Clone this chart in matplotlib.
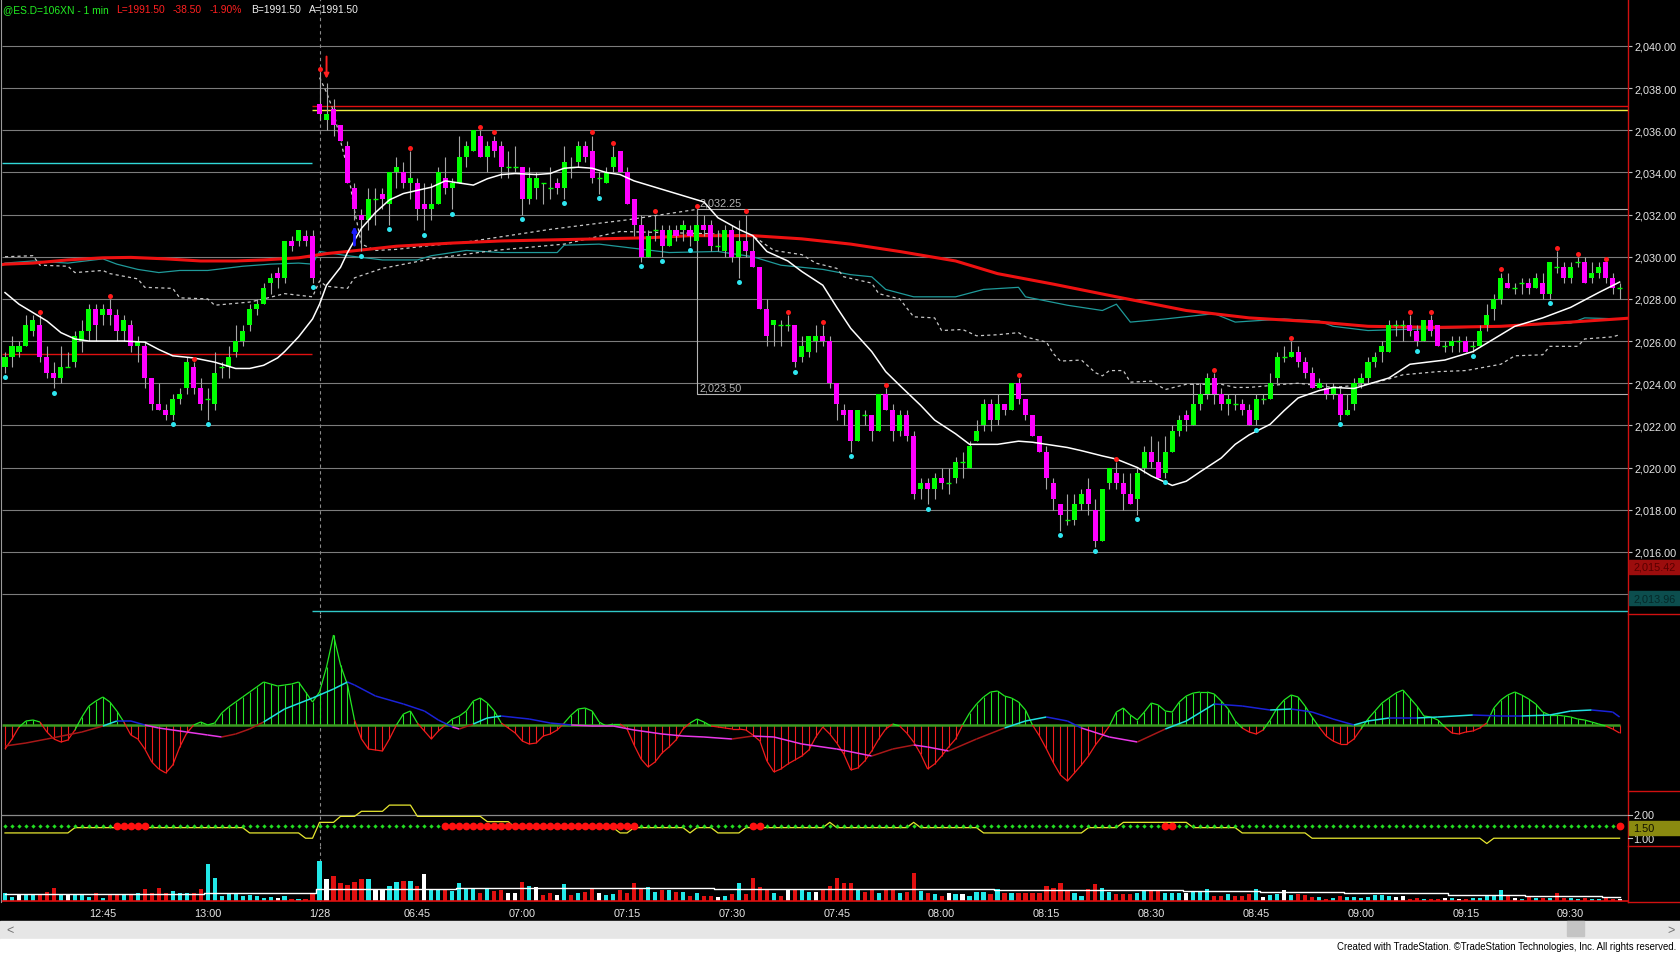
import numpy as np
import matplotlib
matplotlib.use('Agg')
import matplotlib.pyplot as plt
from matplotlib.collections import LineCollection
from matplotlib.lines import Line2D
from matplotlib.patches import Rectangle

plt.rcParams['font.family'] = ['Liberation Sans', 'DejaVu Sans']

# ---- values: 1-min ES bars, 12:31 (1/27) .. 09:37 (1/28) ----
opens = [
    2024.75, 2025.25, 2025.5, 2025.75, 2026.5, 2026.75, 2025.25, 2024.5, 2024.25, 2024.75,
    2025.0, 2026.0, 2026.5, 2027.5, 2027.25, 2027.5, 2027.25, 2026.5, 2026.75, 2025.75,
    2025.75, 2024.25, 2023.0, 2022.75, 2022.5, 2023.25, 2023.75, 2024.75, 2023.75, 2023.25,
    2023.0, 2024.75, 2024.75, 2025.5, 2026.0, 2026.75, 2027.5, 2027.75, 2028.75, 2029.25,
    2029.0, 2030.75, 2030.75, 2031.0, 2031.0, 2037.25, 2036.5, 2037.0, 2036.25, 2035.25,
    2033.25, 2032.0, 2031.75, 2032.75, 2033.0, 2032.5, 2034.0, 2034.0, 2033.5, 2033.5,
    2032.5, 2032.25, 2032.5, 2033.75, 2033.25, 2033.5, 2034.75, 2035.0, 2035.75, 2034.75,
    2035.5, 2035.25, 2034.25, 2034.25, 2034.25, 2032.75, 2033.25, 2033.5, 2033.25, 2033.5,
    2033.25, 2034.25, 2034.5, 2035.25, 2035.0, 2033.75, 2033.5, 2034.25, 2035.0, 2034.0,
    2032.75, 2031.5, 2030.0, 2031.25, 2031.25, 2030.5, 2031.25, 2031.25, 2031.25, 2030.75,
    2031.5, 2031.5, 2030.5, 2030.25, 2031.25, 2030.0, 2030.75, 2030.25, 2029.5, 2027.5,
    2026.75, 2026.75, 2026.75, 2026.75, 2025.25, 2025.5, 2026.0, 2026.25, 2026.0, 2024.0,
    2022.75, 2022.75, 2021.25, 2022.5, 2022.5, 2021.75, 2023.5, 2022.75, 2021.75, 2022.5,
    2021.5, 2019.0, 2019.25, 2019.0, 2019.5, 2019.25, 2019.5, 2020.25, 2020.0, 2021.25,
    2022.0, 2023.0, 2022.25, 2023.0, 2022.75, 2024.0, 2023.25, 2022.5, 2021.5, 2020.75,
    2019.25, 2018.25, 2017.5, 2017.5, 2018.25, 2019.0, 2018.0, 2016.5, 2019.25, 2019.75,
    2019.25, 2018.75, 2018.5, 2020.0, 2020.75, 2020.25, 2019.75, 2020.75, 2021.75, 2022.5,
    2022.0, 2023.0, 2023.5, 2024.25, 2023.5, 2023.0, 2023.0, 2023.0, 2022.75, 2022.25,
    2023.25, 2023.25, 2024.25, 2025.25, 2025.25, 2025.5, 2025.0, 2024.5, 2023.75, 2023.75,
    2023.5, 2023.5, 2022.5, 2023.0, 2024.0, 2024.25, 2025.0, 2025.5, 2025.5, 2026.75,
    2026.75, 2026.75, 2026.5, 2026.0, 2027.0, 2026.75, 2025.75, 2025.75, 2026.0, 2026.0,
    2025.75, 2025.75, 2026.75, 2027.5, 2028.0, 2028.75, 2028.5, 2028.75, 2028.75, 2028.5,
    2028.75, 2028.25, 2029.5, 2029.5, 2029.0, 2029.75, 2029.75, 2029.0, 2029.25, 2029.75,
    2029.0, 2028.5]
highs = [
    2025.5, 2026.25, 2026.0, 2027.25, 2027.25, 2027.25, 2025.75, 2025.0, 2025.75, 2025.5,
    2026.5, 2027.0, 2027.75, 2027.75, 2027.75, 2028.0, 2027.5, 2027.25, 2027.0, 2026.25,
    2026.0, 2024.25, 2024.0, 2023.0, 2023.5, 2023.75, 2025.25, 2025.0, 2024.25, 2023.75,
    2025.5, 2025.0, 2025.75, 2026.75, 2026.75, 2027.75, 2028.0, 2028.75, 2029.25, 2029.5,
    2030.75, 2031.0, 2031.25, 2031.25, 2031.25, 2038.75, 2038.25, 2037.5, 2036.25, 2035.5,
    2033.5, 2032.25, 2033.25, 2033.25, 2033.25, 2034.0, 2034.75, 2034.5, 2035.0, 2033.75,
    2033.5, 2033.5, 2034.25, 2034.75, 2033.75, 2035.75, 2035.5, 2036.0, 2036.0, 2035.5,
    2035.75, 2035.5, 2035.0, 2035.25, 2034.25, 2034.25, 2034.0, 2033.5, 2034.25, 2033.75,
    2035.25, 2034.75, 2035.5, 2035.5, 2035.75, 2034.0, 2034.25, 2035.25, 2035.0, 2034.25,
    2032.75, 2032.0, 2031.25, 2032.0, 2031.5, 2031.5, 2031.5, 2031.75, 2031.5, 2032.25,
    2032.0, 2031.75, 2031.25, 2031.5, 2031.5, 2031.75, 2032.0, 2031.0, 2029.5, 2028.0,
    2027.0, 2027.0, 2027.25, 2026.75, 2026.25, 2026.25, 2026.75, 2026.75, 2026.25, 2024.0,
    2023.0, 2022.75, 2022.75, 2022.75, 2022.5, 2023.5, 2023.75, 2023.0, 2022.75, 2022.75,
    2021.75, 2019.5, 2019.5, 2019.75, 2020.0, 2020.0, 2020.5, 2020.75, 2021.25, 2022.25,
    2023.25, 2023.25, 2023.5, 2023.0, 2024.0, 2024.25, 2023.25, 2022.5, 2021.5, 2021.0,
    2019.5, 2018.25, 2018.75, 2018.75, 2019.0, 2019.5, 2018.5, 2019.0, 2020.0, 2020.25,
    2019.75, 2019.75, 2020.0, 2021.0, 2021.5, 2021.25, 2021.5, 2022.0, 2022.5, 2022.75,
    2024.0, 2024.0, 2024.5, 2024.5, 2023.75, 2023.5, 2023.5, 2023.25, 2023.0, 2023.5,
    2023.5, 2024.5, 2025.5, 2025.75, 2026.0, 2025.75, 2025.25, 2024.75, 2024.25, 2024.0,
    2024.0, 2023.75, 2023.5, 2024.25, 2024.5, 2025.25, 2025.5, 2026.0, 2027.0, 2027.0,
    2027.0, 2027.25, 2026.75, 2027.0, 2027.25, 2026.75, 2026.0, 2026.25, 2026.25, 2026.25,
    2026.0, 2026.75, 2027.75, 2028.25, 2029.25, 2029.25, 2028.75, 2029.0, 2029.0, 2029.25,
    2029.25, 2029.75, 2030.25, 2029.75, 2029.75, 2030.0, 2030.0, 2029.75, 2029.75, 2029.75,
    2029.25, 2028.75]
lows = [
    2024.5, 2024.75, 2025.25, 2025.75, 2026.25, 2025.0, 2024.25, 2023.75, 2024.0, 2024.75,
    2024.75, 2025.5, 2026.0, 2026.0, 2026.75, 2026.75, 2026.0, 2026.0, 2025.5, 2025.0,
    2023.75, 2022.75, 2022.75, 2022.25, 2022.25, 2023.0, 2023.5, 2023.5, 2022.75, 2022.25,
    2022.75, 2024.25, 2024.25, 2025.25, 2025.75, 2026.5, 2027.25, 2027.75, 2028.25, 2028.5,
    2028.75, 2030.25, 2030.5, 2030.5, 2028.75, 2036.5, 2036.0, 2035.75, 2035.5, 2033.5,
    2031.75, 2030.25, 2031.25, 2031.5, 2032.25, 2031.5, 2033.25, 2033.25, 2032.75, 2031.75,
    2031.25, 2031.75, 2032.5, 2033.0, 2032.25, 2033.5, 2034.25, 2035.0, 2034.75, 2034.0,
    2034.75, 2033.75, 2033.75, 2034.0, 2032.0, 2032.5, 2032.75, 2032.5, 2032.75, 2033.0,
    2032.75, 2033.75, 2034.25, 2034.5, 2033.5, 2033.0, 2033.5, 2034.0, 2034.0, 2032.5,
    2031.0, 2029.75, 2030.0, 2030.75, 2030.0, 2030.5, 2030.75, 2030.75, 2030.5, 2030.25,
    2031.0, 2030.25, 2030.25, 2030.0, 2029.75, 2029.0, 2030.0, 2029.5, 2027.5, 2025.75,
    2025.75, 2025.75, 2026.5, 2024.75, 2025.0, 2025.25, 2025.5, 2025.75, 2023.75, 2022.25,
    2022.0, 2020.75, 2021.25, 2022.0, 2021.25, 2021.75, 2022.75, 2021.25, 2021.5, 2021.25,
    2018.5, 2018.5, 2018.25, 2018.5, 2019.0, 2018.75, 2019.25, 2019.5, 2020.0, 2021.25,
    2021.75, 2021.75, 2022.0, 2022.5, 2022.75, 2023.0, 2022.25, 2021.5, 2020.75, 2019.0,
    2018.0, 2017.0, 2017.25, 2017.25, 2018.0, 2017.75, 2016.25, 2016.5, 2019.0, 2019.0,
    2018.0, 2018.25, 2017.75, 2019.75, 2020.0, 2019.5, 2019.5, 2020.75, 2021.5, 2021.75,
    2022.0, 2022.75, 2023.25, 2023.0, 2022.75, 2022.5, 2022.75, 2022.5, 2022.0, 2022.0,
    2023.0, 2023.25, 2024.0, 2025.0, 2025.25, 2024.75, 2024.25, 2023.75, 2023.75, 2023.25,
    2023.25, 2022.25, 2022.5, 2022.75, 2023.75, 2024.0, 2024.75, 2025.0, 2025.5, 2026.25,
    2026.0, 2026.25, 2025.75, 2026.0, 2026.25, 2025.75, 2025.5, 2025.5, 2025.5, 2025.5,
    2025.5, 2025.75, 2026.5, 2027.0, 2027.75, 2028.5, 2028.25, 2028.25, 2028.25, 2028.5,
    2028.0, 2028.0, 2029.25, 2028.75, 2028.75, 2029.5, 2028.75, 2028.75, 2029.0, 2028.75,
    2028.25, 2028.0]
closes = [
    2025.25, 2025.75, 2025.75, 2026.75, 2027.0, 2025.25, 2024.5, 2024.25, 2024.75, 2024.75,
    2026.25, 2026.5, 2027.5, 2026.75, 2027.5, 2027.25, 2026.5, 2027.0, 2025.75, 2026.0,
    2024.25, 2023.0, 2022.75, 2022.5, 2023.25, 2023.5, 2025.0, 2023.75, 2023.0, 2023.25,
    2024.5, 2024.75, 2025.25, 2026.0, 2026.5, 2027.5, 2027.75, 2028.5, 2029.0, 2029.0,
    2030.75, 2030.5, 2031.25, 2030.75, 2029.0, 2036.75, 2036.75, 2036.25, 2035.5, 2033.5,
    2032.25, 2031.75, 2032.75, 2032.75, 2032.75, 2034.0, 2034.25, 2033.5, 2033.75, 2032.25,
    2032.25, 2032.5, 2034.0, 2033.25, 2033.5, 2034.75, 2035.25, 2036.0, 2034.75, 2035.25,
    2035.0, 2034.25, 2034.25, 2034.25, 2032.75, 2033.75, 2033.75, 2033.5, 2033.25, 2033.25,
    2034.5, 2034.25, 2035.25, 2034.75, 2033.75, 2033.75, 2034.0, 2034.75, 2034.0, 2032.5,
    2031.5, 2030.0, 2031.0, 2031.25, 2030.5, 2031.25, 2031.0, 2031.5, 2031.0, 2031.5,
    2031.25, 2030.5, 2030.5, 2031.25, 2030.0, 2030.75, 2030.25, 2029.5, 2027.5, 2026.25,
    2027.0, 2026.75, 2026.75, 2025.0, 2025.75, 2026.25, 2026.25, 2026.0, 2024.0, 2023.0,
    2022.5, 2021.25, 2022.75, 2022.5, 2021.75, 2023.5, 2022.75, 2021.75, 2022.5, 2021.5,
    2018.75, 2019.25, 2019.0, 2019.5, 2019.25, 2019.25, 2020.25, 2020.25, 2021.0, 2021.75,
    2023.0, 2022.25, 2023.0, 2022.75, 2024.0, 2023.25, 2022.5, 2021.5, 2020.75, 2019.5,
    2018.5, 2017.75, 2017.5, 2018.25, 2018.75, 2018.25, 2016.5, 2019.0, 2020.0, 2019.25,
    2018.75, 2018.25, 2019.75, 2020.75, 2020.25, 2019.5, 2020.75, 2021.75, 2022.25, 2022.25,
    2023.0, 2023.5, 2024.25, 2023.5, 2023.0, 2023.25, 2023.0, 2022.75, 2022.0, 2023.25,
    2023.25, 2024.0, 2025.25, 2025.25, 2025.5, 2025.0, 2024.5, 2023.75, 2024.0, 2023.5,
    2023.75, 2022.5, 2022.75, 2024.0, 2024.25, 2025.0, 2025.25, 2025.75, 2026.75, 2026.75,
    2026.75, 2026.5, 2026.0, 2027.0, 2026.5, 2025.75, 2025.75, 2026.0, 2026.0, 2025.5,
    2025.75, 2026.5, 2027.25, 2028.0, 2029.0, 2028.5, 2028.5, 2028.75, 2028.5, 2029.0,
    2028.25, 2029.75, 2029.5, 2029.0, 2029.5, 2029.75, 2028.75, 2029.25, 2029.5, 2029.0,
    2028.5, 2028.5]

# swing markers (bar numbers)
swing_high_bars = [5, 15, 27, 45, 58, 68, 70, 84, 87, 93, 99, 106, 112, 117, 126, 145,
                   159, 173, 184, 201, 204, 214, 222, 225, 229]
swing_low_bars = [0, 7, 24, 29, 44, 51, 55, 60, 64, 74, 80, 85, 91, 94, 98, 105, 113,
                  121, 132, 151, 156, 162, 166, 179, 191, 202, 210, 221]

# overlay lines (bar, price)
white_ma = [(0, 2028.3), (2, 2027.75), (4, 2027.35), (6, 2026.95), (8, 2026.4), (10, 2026.1),
            (12, 2026.0), (17, 2026.0), (20, 2025.95), (22, 2025.6), (24, 2025.3), (27, 2025.2),
            (30, 2025.0), (33, 2024.7), (35, 2024.7), (37, 2024.85), (39, 2025.2), (40, 2025.5),
            (42, 2026.2), (44, 2027.05), (45, 2027.75), (46, 2028.65), (48, 2029.5), (49, 2030.2),
            (51, 2031.35), (53, 2032.1), (55, 2032.7), (57, 2033.0), (59, 2033.15), (61, 2033.3),
            (63, 2033.6), (65, 2033.5), (67, 2033.4), (69, 2033.7), (71, 2033.9), (73, 2033.95),
            (76, 2033.9), (78, 2033.95), (80, 2034.2), (82, 2034.25), (84, 2034.2), (86, 2034.0),
            (88, 2033.9), (90, 2033.6), (93, 2033.3), (98, 2032.8), (100, 2032.6), (102, 2031.85),
            (105, 2031.3), (107, 2031.0), (109, 2030.25), (112, 2029.8), (114, 2029.3),
            (117, 2028.65), (119, 2027.6), (121, 2026.6), (124, 2025.5), (126, 2024.55),
            (128, 2023.9), (131, 2022.95), (133, 2022.25), (136, 2021.6), (138, 2021.1),
            (142, 2021.1), (145, 2021.25), (147, 2021.2), (150, 2021.05), (152, 2020.95),
            (154, 2020.8), (157, 2020.55), (159, 2020.4), (162, 2020.0), (164, 2019.6),
            (167, 2019.15), (169, 2019.35), (171, 2019.8), (174, 2020.45), (176, 2021.1),
            (178, 2021.55), (181, 2022.05), (183, 2022.7), (185, 2023.3), (188, 2023.65),
            (190, 2023.8), (193, 2023.75), (195, 2023.95), (198, 2024.25), (201, 2024.9),
            (206, 2025.1), (210, 2025.5), (212, 2025.9), (216, 2026.7), (220, 2027.1),
            (224, 2027.6), (228, 2028.3), (231, 2028.8)]
red_ma = [(-1, 2029.6), (0, 2029.65), (4, 2029.7), (9, 2029.85), (14, 2029.95), (18, 2029.97),
          (23, 2029.9), (28, 2029.8), (33, 2029.8), (37, 2029.85), (42, 2029.95), (46, 2030.15),
          (49, 2030.25), (56, 2030.5), (64, 2030.65), (71, 2030.75), (78, 2030.8), (85, 2030.85),
          (92, 2030.9), (98, 2031.0), (107, 2031.0), (114, 2030.85), (121, 2030.6),
          (128, 2030.25), (136, 2029.8), (142, 2029.2), (150, 2028.7), (159, 2028.1),
          (169, 2027.45), (178, 2027.1), (188, 2026.9), (195, 2026.7), (205, 2026.65),
          (214, 2026.7), (224, 2026.9), (233, 2027.1)]
teal_line = [(0, 2029.7), (4, 2029.8), (9, 2029.7), (14, 2029.9), (16, 2029.65), (19, 2029.4),
             (22, 2029.25), (25, 2029.35), (29, 2029.35), (34, 2029.55), (38, 2029.65),
             (42, 2029.7), (44, 2029.65), (45, 2030.25), (49, 2030.05), (54, 2029.85),
             (59, 2029.85), (61, 2030.05), (66, 2030.3), (71, 2030.2), (79, 2030.2), (80, 2030.55),
             (85, 2030.6), (90, 2030.4), (95, 2030.2), (102, 2030.25), (107, 2030.0),
             (111, 2029.6), (114, 2029.5), (117, 2029.4), (121, 2029.15), (124, 2029.05),
             (126, 2028.45), (130, 2028.1), (136, 2028.1), (140, 2028.45), (145, 2028.55),
             (146, 2028.1), (152, 2027.7), (157, 2027.45), (159, 2027.75), (161, 2026.9),
             (166, 2027.05), (173, 2027.3), (176, 2026.9), (183, 2027.05), (188, 2026.95),
             (190, 2026.7), (195, 2026.5), (205, 2026.6), (214, 2026.7), (224, 2026.85),
             (226, 2027.1), (231, 2027.05)]
dotted_a = [(0, 2030.0), (4, 2030.05), (5, 2029.6), (9, 2029.55), (10, 2029.25), (14, 2029.35),
            (15, 2029.2), (19, 2028.95), (20, 2028.55), (24, 2028.5), (25, 2028.05), (29, 2028.0),
            (30, 2027.7), (35, 2027.85), (37, 2028.0), (40, 2028.25), (44, 2028.1), (45, 2028.85),
            (46, 2028.6), (49, 2028.5), (50, 2029.0), (54, 2029.45), (61, 2029.9), (70, 2030.3),
            (80, 2030.6), (88, 2031.2), (100, 2031.1), (107, 2031.0), (110, 2030.3),
            (114, 2030.1), (116, 2029.7), (119, 2029.45), (120, 2029.05), (124, 2028.75),
            (125, 2028.25), (128, 2028.0), (130, 2027.15), (133, 2027.1), (134, 2026.5),
            (137, 2026.55), (139, 2026.25), (142, 2026.3), (145, 2026.4), (146, 2026.2),
            (149, 2025.95), (150, 2025.4), (151, 2025.05), (154, 2025.1), (156, 2024.5),
            (157, 2024.35), (158, 2024.6), (160, 2024.6), (161, 2024.05), (164, 2024.1),
            (166, 2023.7), (169, 2023.95), (174, 2023.95), (176, 2023.8), (178, 2023.8),
            (183, 2023.95), (185, 2024.0), (190, 2023.8), (195, 2023.95), (198, 2024.2),
            (200, 2024.4), (205, 2024.55), (209, 2024.6), (214, 2024.9), (216, 2025.3),
            (220, 2025.35), (221, 2025.75), (225, 2025.75), (226, 2026.1), (230, 2026.2),
            (231, 2026.3)]
dotted_b = [(45, 2038.5), (46, 2037.8), (47, 2036.9), (48, 2035.5), (49, 2034.2), (50, 2032.2),
            (51, 2030.6), (53, 2030.3), (56, 2030.35), (60, 2030.5), (66, 2030.7), (72, 2031.0),
            (78, 2031.3), (84, 2031.55), (89, 2031.75), (94, 2032.0), (99, 2032.25)]

# oscillator histogram (hundredths)
macd_hist = [
    -24, -14, -2, 4, 5, 3, -7, -14, -17, -15, -5, 8, 19, 24, 28, 23, 14, 3, -10, -14,
    -24, -37, -44, -48, -40, -22, -8, 0, 3, 0, 2, 12, 18, 23, 28, 33, 38, 43, 41, 39,
    40, 41, 43, 33, 23, 33, 58, 90, 60, 40, 5, -14, -24, -25, -26, -14, 0, 11, 14, 2,
    -6, -14, -6, 0, 6, 9, 14, 24, 27, 22, 14, 2, -3, -8, -16, -19, -18, -11, -9, -5,
    2, 10, 16, 17, 14, 3, -1, 1, 1, -4, -20, -34, -42, -37, -28, -22, -15, -4, 2, 6,
    3, -1, -2, -3, -4, -4, -5, -10, -16, -36, -47, -44, -39, -35, -31, -25, -12, -2, -9, -18,
    -29, -45, -43, -36, -26, -14, -4, 1, -1, -8, -17, -29, -44, -39, -31, -22, -14, 0, 12, 21,
    28, 33, 34, 29, 27, 23, 15, 0, -11, -24, -38, -50, -56, -48, -40, -31, -20, -11, -1, 13,
    17, 10, 5, 13, 22, 20, 14, 13, 23, 29, 32, 33, 33, 31, 24, 16, 4, -3, -7, -9,
    -5, 5, 17, 25, 30, 28, 19, 8, -2, -11, -16, -19, -19, -14, -4, 6, 14, 22, 27, 32,
    35, 27, 19, 9, 8, 5, -2, -8, -9, -7, -6, -3, 2, 17, 25, 30, 33, 30, 26, 21,
    13, 10, 10, 9, 8, 6, 5, 3, 1, -1, -4, -8]
signal_bars = [0, 3, 6, 11, 14, 16, 18, 20, 22, 26, 29, 31, 33, 35, 37, 40, 44, 47, 49, 50,
               53, 57, 60, 62, 64, 65, 67, 69, 71, 75, 78, 81, 84, 87, 90, 94, 97, 100, 104, 107,
               110, 114, 119, 124, 127, 130, 132, 135, 139, 143, 146, 149, 152, 154, 158, 162,
               166, 169, 173, 177, 181, 184, 187, 190, 193, 195, 198, 202, 205, 210, 214, 217,
               221, 224, 227, 230, 231]
signal_vals = [-21, -18, -14, -7, -1, 4, 4, 0, -3, -7, -10, -12, -9, -4, 3, 16, 27, 36, 43, 40,
               29, 21, 14, 5, -2, -4, 1, 7, 9, 6, 2, 0, -1, -1, -5, -9, -11, -12, -14, -11,
               -12, -19, -24, -31, -24, -20, -22, -26, -14, -3, 4, 8, 4, -3, -12, -17,
               -4, 4, 21, 19, 15, 16, 13, 6, 0, 4, 7, 7, 8, 10, 9, 9,
               10, 14, 15, 13, 8]

# squeeze panel
squeeze_bars = list(range(16, 21)) + list(range(63, 91)) + [107, 108, 166, 167, 231]
ratio_runs = [(1.22, 10), (1.45, 25), (1.22, 8), (0.99, 2), (1.68, 3), (1.94, 3), (2.16, 4),
              (2.43, 4), (1.94, 10), (1.71, 4), (1.45, 15), (1.22, 2), (1.45, 8), (1.22, 1),
              (1.45, 3), (1.22, 4), (1.45, 12), (1.68, 1), (1.45, 11), (1.68, 1), (1.45, 9),
              (1.22, 15), (1.45, 5), (1.68, 10), (1.45, 7), (1.22, 10), (0.99, 25), (0.76, 1),
              (0.99, 19)]

# volume (hundreds of contracts)
volume = [
    8, 4, 6, 6, 6, 7, 9, 13, 7, 6, 7, 6, 4, 8, 3, 7, 7, 6, 6, 8,
    12, 8, 13, 8, 10, 8, 8, 8, 12, 37, 23, 5, 7, 8, 5, 6, 5, 3, 4, 3,
    5, 2, 2, 2, 8, 40, 22, 25, 18, 16, 19, 22, 22, 11, 11, 15, 19, 20, 20, 15,
    27, 12, 12, 12, 10, 18, 12, 12, 8, 13, 10, 11, 8, 8, 19, 15, 14, 6, 8, 6,
    17, 6, 8, 9, 13, 8, 6, 7, 11, 8, 18, 13, 14, 9, 11, 11, 9,
    9, 5, 8, 5, 5, 4, 5, 7, 18, 7, 23, 14, 11, 8, 5, 12, 11, 12, 9, 9,
    11, 15, 23, 18, 18, 11, 9, 11, 8, 11, 11, 8, 9, 28, 10, 8, 7, 5, 8, 7,
    7, 5, 9, 9, 7, 12, 8, 8, 8, 8, 8, 8, 15, 13, 18, 11, 8, 5, 12, 17,
    13, 9, 7, 7, 7, 8, 10, 10, 10, 8, 8, 8, 8, 10, 10, 12, 5, 5, 7, 5,
    5, 7, 12, 4, 6, 7, 11, 6, 7, 6, 4, 4, 2, 3, 5, 4, 4, 3, 4, 6,
    6, 5, 4, 5, 2, 3, 2, 2, 2, 3, 3, 2, 2, 3, 3, 5, 6, 11, 5, 3,
    2, 4, 3, 3, 3, 8, 3, 3, 2, 3, 2, 2, 3, 2, 2]
vol_avg_runs = [(6.7, 29), (8.3, 16), (12.3, 20), (13.3, 26), (13.5, 11), (11.7, 40),
                (11.0, 27), (10.0, 11), (9.0, 12), (7.7, 15), (6.0, 11), (5.3, 11), (4.3, 3)]

time_labels = ['12:45', '13:00', '1/28', '06:45', '07:00', '07:15', '07:30', '07:45',
               '08:00', '08:15', '08:30', '08:45', '09:00', '09:15', '09:30']
time_label_bars = [14, 29, 45, 59, 74, 89, 104, 119, 134, 149, 164, 179, 194, 209, 224]
price_ticks = list(range(2016, 2041, 2))

# ---- figure ----
W, H = 1680, 954
fig = plt.figure(figsize=(W / 100, H / 100), dpi=100, facecolor='black')


def fx(px):
    return px / W


def fy(py):
    return 1 - py / H


XMIN, XMAX = -0.43, 232.2


def panel(top, bottom):
    ax = fig.add_axes([fx(2), fy(bottom), fx(1626), (bottom - top) / H])
    ax.set_facecolor('black')
    for s in ax.spines.values():
        s.set_visible(False)
    ax.set_xlim(XMIN, XMAX)
    ax.set_xticks([])
    ax.set_yticks([])
    ax.axvline(45, color='#8a8a8a', lw=0.8, ls=(0, (3, 3)), zorder=2)
    return ax


ax_p = panel(0, 615)
ax_m = panel(615, 792)
ax_s = panel(792, 847)
ax_v = panel(847, 903)

x = np.arange(len(closes))
o, h, l, c = (np.array(v) for v in (opens, highs, lows, closes))

# price panel
ax_p.set_ylim(2013.05, 2042.23)
ax_p.hlines(np.arange(2014, 2041, 2), XMIN, XMAX, color='#7c7c7c', lw=0.8, zorder=1)
ax_p.hlines(2034.45, XMIN, 43.9, color='#30d8d8', lw=1, zorder=2)
ax_p.hlines(2025.4, XMIN, 43.9, color='#e01010', lw=1, zorder=2)
ax_p.hlines(2037.17, 43.9, XMAX, color='#e01010', lw=1, zorder=2)
ax_p.hlines(2036.95, 43.9, XMAX, color='#f0f040', lw=1, zorder=2)
ax_p.hlines(2013.2, 43.9, XMAX, color='#30c8c8', lw=1, zorder=2)
ax_p.plot([XMAX, 99, 99, XMAX], [2032.25, 2032.25, 2023.5, 2023.5], color='#b4b4b4', lw=0.8, zorder=2)
ax_p.text(99.3, 2032.32, '2,032.25', color='#b4b4b4', fontsize=7.8, va='bottom', zorder=2)
ax_p.text(99.3, 2023.57, '2,023.50', color='#b4b4b4', fontsize=7.8, va='bottom', zorder=2)

for pts, col, lw, ls, z in [(red_ma, '#ee1111', 2.2, '-', 4), (teal_line, '#1f9a9a', 0.9, '-', 3),
                            (dotted_a, '#c8c8c8', 0.9, (0, (2.5, 2.5)), 3),
                            (dotted_b, '#c8c8c8', 0.9, (0, (2.5, 2.5)), 3)]:
    bx, by = zip(*pts)
    ax_p.plot(bx, by, color=col, lw=lw, ls=ls, zorder=z)

up = c > o
dn = c < o
eq = c == o
ax_p.vlines(x, l, h, color='#a6a6a6', lw=0.8, zorder=5)
ax_p.bar(x[up], (c - o)[up], bottom=o[up], width=0.72, color='#00ff00', lw=0, zorder=6)
ax_p.bar(x[dn], (o - c)[dn], bottom=c[dn], width=0.72, color='#ff00ff', lw=0, zorder=6)
ax_p.hlines(c[eq], x[eq] - 0.36, x[eq] + 0.36, color='#00ff00', lw=1, zorder=6)

wx, wy = zip(*white_ma)
ax_p.plot(wx, wy, color='white', lw=1.1, zorder=7)

ax_p.plot(swing_high_bars, h[swing_high_bars] + 0.15, 'o', color='#ff1a1a', ms=3.6, mec='none', zorder=8)
ax_p.plot(swing_low_bars, l[swing_low_bars] - 0.2, 'o', color='#2ee6f0', ms=3.6, mec='none', zorder=8)
ax_p.annotate('', xy=(46, 2038.45), xytext=(46, 2039.5),
              arrowprops=dict(arrowstyle='-|>', color='#ff2020', lw=1.4, mutation_scale=7,
                              shrinkA=0, shrinkB=0), zorder=8)
ax_p.annotate('', xy=(50, 2031.45), xytext=(50, 2030.55),
              arrowprops=dict(arrowstyle='-|>', color='#1c1cff', lw=2, mutation_scale=6,
                              shrinkA=0, shrinkB=0), zorder=8)

ax_p.yaxis.set_ticks_position('right')
ax_p.set_yticks(price_ticks)
ax_p.set_yticklabels([f'{v:,.2f}' for v in price_ticks])
ax_p.tick_params(axis='y', length=3, width=0.8, color='#c0c0c0', labelcolor='#e6e6e6',
                 labelsize=7.8, pad=1.5)

# oscillator panel
ax_m.set_ylim(-66, 111)
hist = np.array(macd_hist)
hcol = np.where(hist >= 0, '#22e622', '#f01c1c')
ax_m.vlines(x, 0, hist, colors=hcol, lw=0.8, zorder=3)
segs = [[(i, hist[i]), (i + 1, hist[i + 1])] for i in range(len(hist) - 1)]
scol = ['#22e622' if hist[i] + hist[i + 1] >= 0 else '#f01c1c' for i in range(len(hist) - 1)]
ax_m.add_collection(LineCollection(segs, colors=scol, lw=0.9, zorder=4))
ax_m.hlines(0, XMIN, x[-1], color='#3c9a22', lw=1.8, zorder=3)
sig_segs, sig_cols = [], []
for i in range(len(signal_bars) - 1):
    v0, v1 = signal_vals[i], signal_vals[i + 1]
    sig_segs.append([(signal_bars[i], v0), (signal_bars[i + 1], v1)])
    if v0 + v1 >= 0:
        sig_cols.append('#20e0e0' if v1 > v0 else '#1a22d8')
    else:
        sig_cols.append('#a81818' if v1 > v0 else '#e838e8')
ax_m.add_collection(LineCollection(sig_segs, colors=sig_cols, lw=1.1, zorder=5))

# squeeze panel
ax_s.set_ylim(0.652, 3.043)
ax_s.axhline(2.0, color='#8a8a8a', lw=0.9, zorder=2)
ratio = np.concatenate([[v] * n for v, n in ratio_runs])
ax_s.plot(x, ratio, color='#e8e830', lw=0.9, zorder=3)
sq = np.zeros(len(x), bool)
sq[squeeze_bars] = True
ax_s.plot(x[~sq], np.full((~sq).sum(), 1.5), 'D', color='#22dd22', ms=2.2, mec='none', zorder=4)
ax_s.plot(x[sq], np.full(sq.sum(), 1.5), 'o', color='#ff1010', ms=5.6, mec='none', zorder=4)

# volume panel
ax_v.set_ylim(-1, 55)
prev = np.concatenate([[o[0]], c[:-1]])
vcol = np.where(c > prev, '#22e8e8', np.where(c < prev, '#e01010', '#ffffff'))
ax_v.bar(x, volume, width=0.6, color=vcol, lw=0, zorder=3)
vavg = np.concatenate([[v] * n for v, n in vol_avg_runs])
ax_v.plot(x, vavg, color='white', lw=1, drawstyle='steps-mid', zorder=4)
ax_v.axhline(0, color='#e01010', lw=1.2, zorder=5)
tr = ax_v.get_xaxis_transform()
for b, t in zip(time_label_bars, time_labels):
    ax_v.text(b, -11 / 56, t, transform=tr, ha='center', va='center', color='#e6e6e6',
              fontsize=7.8, clip_on=False)

# header line
for px, txt, col in [(3, '@ES.D=106XN - 1 min', '#22ee22'), (116, 'L=1991.50', '#ff2020'),
                     (173, '-38.50', '#ff2020'), (210, '-1.90%', '#ff2020'),
                     (251, 'B=1991.50', '#f0f0f0'), (309, 'A=1991.50', '#f0f0f0')]:
    fig.text(fx(px), fy(10), txt, color=col, fontsize=7.4, va='center')

# right axis frame and markers
red = '#d01010'
fig.add_artist(Line2D([fx(1628)] * 2, [fy(0), fy(903)], color=red, lw=1))
for py in (615, 792, 847, 903):
    fig.add_artist(Line2D([fx(1628), 1], [fy(py)] * 2, color=red, lw=1))
fig.add_artist(Line2D([fx(1), fx(1)], [fy(0), fy(903)], color='#9a9a9a', lw=0.8))

fig.add_artist(Rectangle((fx(1629), fy(575)), fx(51), 14 / H, color='#9c0d0d', zorder=4))
fig.text(fx(1633), fy(568), '2,015.42', color='#580000', fontsize=7.8, va='center', zorder=5)
fig.add_artist(Rectangle((fx(1629), fy(606)), fx(51), 14 / H, color='#0c4e4e', zorder=4))
fig.text(fx(1633), fy(599), '2,013.96', color='#052828', fontsize=7.8, va='center', zorder=5)

for py in (816, 839):
    fig.add_artist(Line2D([fx(1628), fx(1632)], [fy(py)] * 2, color='#c0c0c0', lw=0.8))
fig.text(fx(1633), fy(816), '2.00', color='#e6e6e6', fontsize=7.8, va='center', zorder=3)
fig.text(fx(1633), fy(840), '1.00', color='#e6e6e6', fontsize=7.8, va='center', zorder=3)
fig.add_artist(Rectangle((fx(1629), fy(836)), fx(51), 14 / H, color='#8a8a10', zorder=4))
fig.text(fx(1633), fy(829), '1.50', color='#101000', fontsize=7.8, va='center', zorder=5)

# scrollbar and footer
fig.add_artist(Rectangle((0, fy(940)), 1, 18 / H, color='#e6e6e6', zorder=1))
fig.add_artist(Rectangle((0, 0), 1, 14 / H, color='white', zorder=1))
fig.add_artist(Rectangle((fx(1567), fy(937)), fx(17), 15 / H, color='#c4c4c4', zorder=2))
fig.text(fx(6), fy(931), '<', color='#707070', fontsize=9, va='center', zorder=3)
fig.text(fx(1667), fy(931), '>', color='#707070', fontsize=9, va='center', zorder=3)
fig.text(fx(1676), fy(947), 'Created with TradeStation. \u00a9TradeStation Technologies, Inc. All rights reserved.',
         color='black', fontsize=6.9, ha='right', va='center', zorder=3)

fig.savefig('out.png', dpi=100, facecolor='black')
